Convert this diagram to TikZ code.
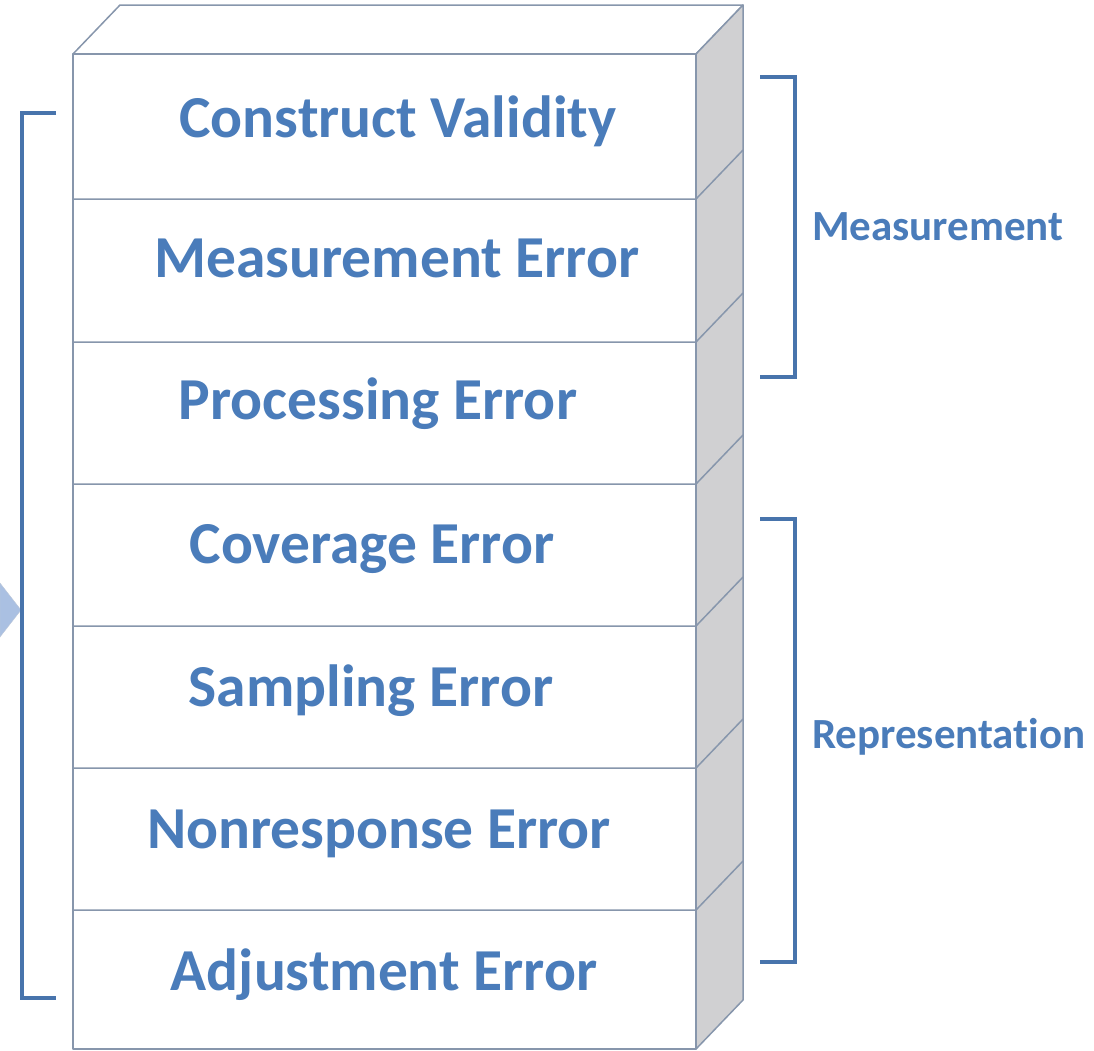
\documentclass[tikz,border=0pt]{standalone}
\usepackage{fontspec}
\setmainfont{Carlito}[Ligatures={NoCommon}]
\definecolor{txtblue}{RGB}{74,124,186}
\definecolor{brblue}{RGB}{72,116,172}
\definecolor{boxline}{RGB}{135,150,172}
\definecolor{sidegray}{RGB}{208,208,210}
\definecolor{arrowfill}{RGB}{170,192,226}
\tikzset{
  face/.style={draw=boxline, line width=1.5pt, line join=round},
  rowtext/.style={text=txtblue, font=\bfseries\fontsize{59.5}{63}\selectfont, anchor=base, inner sep=0pt},
  sidetext/.style={text=txtblue, font=\bfseries\fontsize{43}{48}\selectfont, anchor=base west, inner sep=0pt},
  bracket/.style={draw=brblue, line width=4.8pt, line cap=butt, line join=miter}
}
\begin{document}
\begin{tikzpicture}[x=1pt,y=-1pt]
\useasboundingbox (0,0) rectangle (1094,1050);
% arrow tip on the left
\fill[arrowfill, draw=arrowfill!85!black!60] (0,583) -- (21,610) -- (0,637) -- cycle;
% box: top face
\path[face, fill=white] (73,54) -- (120,5) -- (743,5) -- (696,54) -- cycle;
% side face
\path[face, fill=sidegray] (696,54) -- (743,5) -- (743,1000) -- (696,1049) -- cycle;
% front face
\path[face, fill=white] (73,54) rectangle (696,1049);
\foreach \y in {199,342,484,626,768,910}{
  \draw[face] (73,\y) -- (696,\y) -- (743,\y-49);
}
% row labels
\node[rowtext] (cv) at (398,137) {Construct Validity};
\node[rowtext] (me) at (397,277) {Measurement Error};
\node[rowtext] (pe) at (378,419) {Processing Error};
\node[rowtext] (ce) at (372,563) {Coverage Error};
\node[rowtext] (se) at (371,706) {Sampling Error};
\node[rowtext] (ne) at (379,848) {Nonresponse Error};
\node[rowtext] (ae) at (384,990) {Adjustment Error};
% brackets
\draw[bracket] (56,113) -- (22,113) -- (22,998) -- (56,998);
\draw[bracket] (760,77) -- (795,77) -- (795,377) -- (760,377);
\draw[bracket] (760,519) -- (795,519) -- (795,962) -- (760,962);
% bracket labels
\node[sidetext] (meas) at (812,240) {Measurement};
\node[sidetext] (repr) at (812,748) {Representation};
\end{tikzpicture}
\end{document}
